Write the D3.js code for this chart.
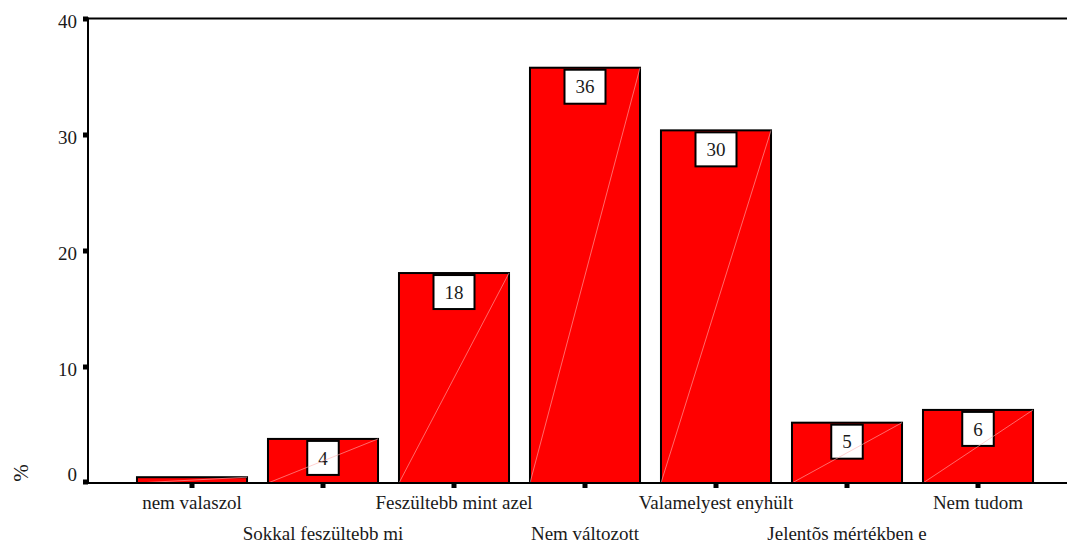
<!DOCTYPE html>
<html><head><meta charset="utf-8">
<script src="https://cdn.jsdelivr.net/npm/d3@7"></script>
<style>body{margin:0;background:#fff}svg{display:block}text{font-family:"Liberation Serif","Times New Roman",serif;fill:#1a1a1a}</style>
</head><body>
<script>
const categories = ["nem valaszol","Sokkal feszültebb mi","Feszültebb mint azel","Nem változott","Valamelyest enyhült","Jelentõs mértékben e","Nem tudom"];
const values = [0.5, 3.8, 18.1, 35.8, 30.4, 5.2, 6.3];
const barLabels = ["", "4", "18", "36", "30", "5", "6"];
const yTicks = [0, 10, 20, 30, 40];
const yTitle = "%";

const W = 1067, H = 547;
const svg = d3.select("body").append("svg").attr("width", W).attr("height", H);
const x = d3.scaleBand().domain(categories).range([126.5, 1043.5]).paddingInner(0.16).paddingOuter(0.08);
const y = d3.scaleLinear().domain([0, 40]).range([483, 19]);
const left = 88, right = W;
const fs = 19;

// bars
const g = svg.append("g");
g.selectAll("rect.bar").data(values).join("rect").attr("class","bar")
  .attr("x", (d,i) => x(categories[i])).attr("width", x.bandwidth())
  .attr("y", d => y(d)).attr("height", d => y(0) - y(d))
  .attr("fill", "#ff0000").attr("stroke", "#000").attr("stroke-width", 2);

// label boxes
values.forEach((d,i) => {
  if (!barLabels[i]) return;
  const cx = x(categories[i]) + x.bandwidth()/2;
  const t = g.append("text").attr("x", cx).attr("y", y(d) + 2 + 17).attr("dy", "0.35em")
    .attr("text-anchor","middle").attr("font-size", fs).text(barLabels[i]);
  const w = Math.max(31, t.node().getComputedTextLength() + 22);
  g.insert("rect", "text").attr("x", cx - w/2).attr("y", y(d) + 2).attr("width", w).attr("height", 34)
    .attr("fill", "#fff").attr("stroke", "#000").attr("stroke-width", 2);
});
// diagonals
g.selectAll("line.diag").data(values).join("line").attr("class","diag")
  .attr("x1", (d,i) => x(categories[i])).attr("y1", y(0))
  .attr("x2", (d,i) => x(categories[i]) + x.bandwidth()).attr("y2", d => y(d))
  .attr("stroke", "#ffb0b0").attr("stroke-width", 0.6);

// frame lines
svg.append("line").attr("x1", left).attr("x2", right).attr("y1", y(40)-0.5).attr("y2", y(40)-0.5).attr("stroke","#000").attr("stroke-width",2);
svg.append("line").attr("x1", left).attr("x2", right).attr("y1", y(0)).attr("y2", y(0)).attr("stroke","#000").attr("stroke-width",2);
svg.append("line").attr("x1", left).attr("x2", left).attr("y1", y(40)-1.5).attr("y2", y(0)+1).attr("stroke","#000").attr("stroke-width",2);

// y ticks
yTicks.forEach(v => {
  svg.append("rect").attr("x", left - 5).attr("y", y(v) - 2.5 - (v===0?1:0)).attr("width", 5).attr("height", 5).attr("fill", "#000");
  svg.append("text").attr("x", 77).attr("y", y(v) + (v===0 ? -9 : 2)).attr("dy","0.35em")
    .attr("text-anchor","end").attr("font-size", fs).text(v);
});
// x ticks
categories.forEach((c,i) => {
  const cx = x(c) + x.bandwidth()/2;
  svg.append("rect").attr("x", cx - 2.5).attr("y", y(0)).attr("width", 5).attr("height", 5).attr("fill", "#000");
  svg.append("text").attr("x", cx).attr("y", i % 2 === 0 ? 509 : 540)
    .attr("text-anchor","middle").attr("font-size", fs).text(c);
});
// y title
svg.append("text").attr("transform", "translate(28,473) rotate(-90)").attr("text-anchor","middle")
  .attr("font-size", 21).text(yTitle);
</script>
</body></html>
